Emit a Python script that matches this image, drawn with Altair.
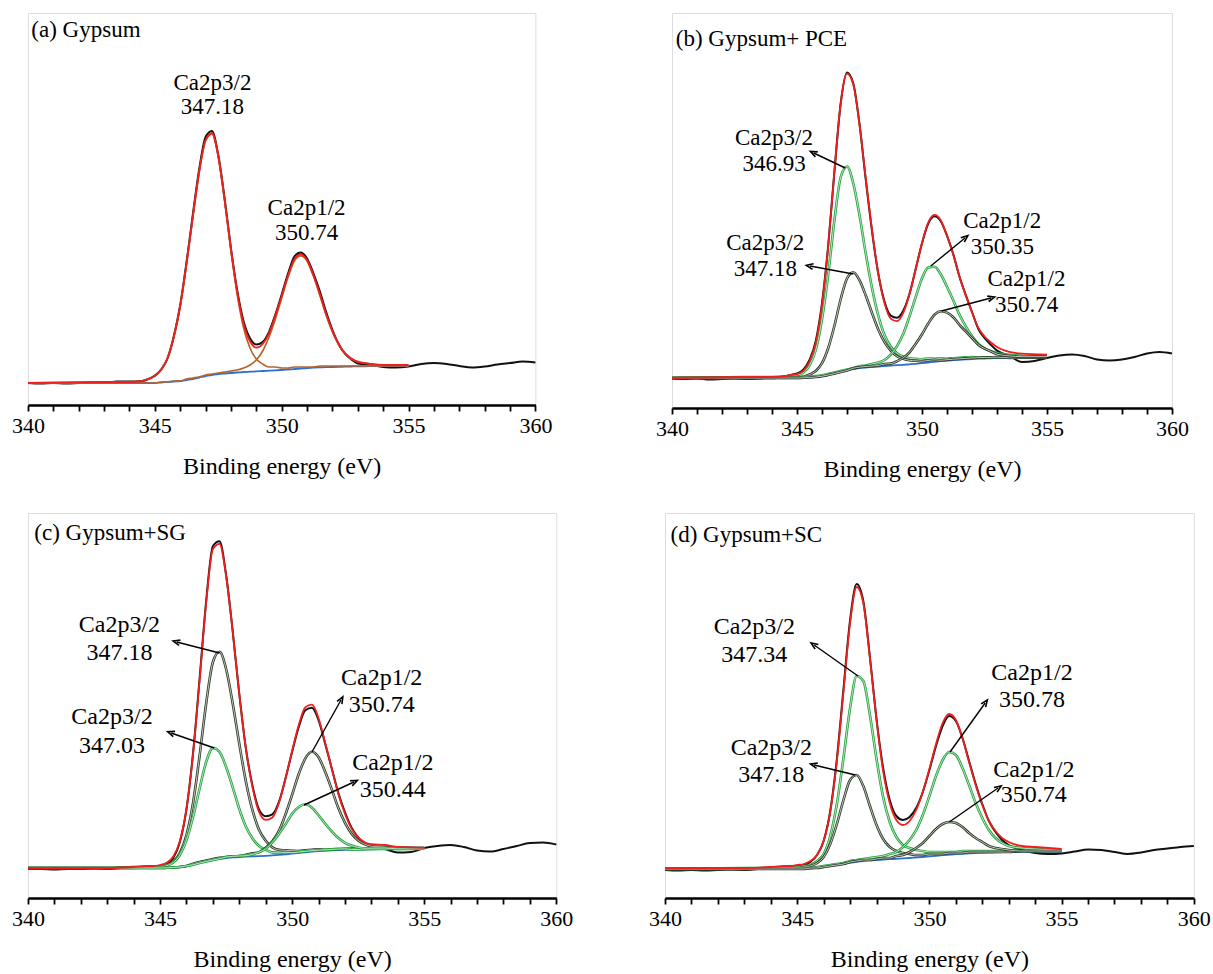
import math
import pandas as pd
import altair as alt

FONT = "Liberation Serif"

X_FIT = [340, 343, 344, 344.5, 344.75, 345, 345.25, 345.5, 345.75, 346, 346.25, 346.5, 346.75, 347, 347.25,
         347.5, 347.75, 348, 348.25, 348.5, 348.75, 349, 349.25, 349.5, 349.75, 350, 350.25, 350.5, 350.75,
         351, 351.25, 351.5, 351.75, 352, 352.25, 352.5, 352.75, 353, 353.5, 354, 355]
X_RAW = [340, 340.5, 341, 341.5, 342, 342.5, 343, 343.5, 344, 344.5, 344.75, 345, 345.25, 345.5, 345.75, 346,
         346.25, 346.5, 346.75, 347, 347.25, 347.5, 347.75, 348, 348.25, 348.5, 348.75, 349, 349.25, 349.5,
         349.75, 350, 350.25, 350.5, 350.75, 351, 351.25, 351.5, 351.75, 352, 352.25, 352.5, 352.75, 353,
         353.5, 354, 354.5, 355, 355.5, 356, 356.5, 357, 357.5, 358, 358.5, 359, 359.5, 360]

# (a) Gypsum
A_BG = [22, 22, 22, 22, 22, 22, 22.5, 23, 23.5, 24, 25, 26, 27.5, 29, 30, 31, 31.5, 32, 32.5, 33, 33.3, 33.6, 34,
        34.3, 34.6, 35, 35.5, 36, 36.5, 37, 37.3, 37.6, 37.8, 38, 38.2, 38.4, 38.5, 38.6, 38.8, 39, 39]
A_P32 = [22, 23, 23, 24, 26, 29, 35, 47, 68, 99, 141, 188, 233, 264, 271, 248, 204, 154, 110, 77, 57, 46, 41, 38,
         38, 37, 37, 38, 38, 38, 38, 39, 39, 39, 39, 39, 39, 39, 39, 39, 39]
A_P12 = [22, 22, 22, 22, 22, 22, 23, 23, 24, 24, 26, 27, 28, 30, 31, 32, 33, 34, 35, 37, 40, 45, 54, 68, 86, 107,
         128, 144, 149, 144, 129, 110, 90, 73, 60, 51, 46, 43, 41, 40, 40]
A_FIT = [22, 23, 23, 24, 26, 29, 35.5, 47, 68.5, 99, 142, 189, 233.5, 265, 272, 249, 205.5, 156, 112.5, 81, 63.7,
         57.4, 61, 71.7, 89.4, 109, 129.5, 146, 150.5, 145, 129.7, 111.4, 91.2, 74, 60.8, 51.6, 46.5, 43.4, 41.2, 40, 40]
A_RAW = [22, 21.5, 22, 21.5, 22, 22.5, 22, 23.5, 23.5, 24, 26, 29.5, 35.5, 46.5, 69, 100, 143, 191, 236, 268, 274,
         250, 206.5, 156.5, 114, 83.5, 66.7, 60.4, 63, 73.2, 90.4, 110.5, 131.5, 148.5, 152.5, 146.5, 131.7, 113.9,
         93.2, 75, 60.8, 51.1, 45.5, 41.4, 40, 38, 37.5, 38.5, 41, 42, 41, 39, 37.5, 38.5, 40.5, 42, 43.5, 42.5]

# (b) Gypsum+ PCE
B_BG = [30, 30, 30, 30, 30, 30, 30.2, 30.5, 31, 31.8, 33, 34.5, 36, 37.5, 38.8, 39.8, 40.5, 41, 41.5, 42, 42.4, 42.8,
        43.2, 43.7, 44.2, 44.8, 45.5, 46.2, 46.8, 47.3, 47.8, 48.2, 48.6, 49, 49.3, 49.5, 49.7, 49.9, 50.1, 50.3, 50.4]
B_G32 = [30, 31, 31, 31, 32, 33, 35.2, 42.5, 58, 88.8, 134, 188.5, 231, 241.5, 224.8, 192.8, 154.5, 120, 92.5, 73,
         61.4, 54.8, 51.2, 49.7, 49.2, 48.8, 49.5, 49.2, 49.8, 49.3, 49.8, 50.2, 50.6, 51, 50.3, 50.5, 50.7, 50.9,
         51.1, 51.3, 51.4]
B_D32 = [30, 30, 30, 31, 31, 31, 31.2, 33.5, 37, 44.8, 60, 82.5, 109, 129.5, 135.8, 127.8, 112.5, 95, 78.5, 66, 57.4,
         51.8, 49.2, 47.7, 47.2, 46.8, 47.5, 48.2, 47.8, 48.3, 48.8, 49.2, 49.6, 50, 50.3, 50.5, 50.7, 50.9, 50.1,
         50.3, 50.4]
B_G12 = [30, 30, 30, 30, 30, 30, 31.2, 31.5, 32, 32.8, 34, 35.5, 37, 38.5, 39.8, 41.8, 42.5, 44, 45.5, 48, 53.4, 61.8,
         74.2, 91.7, 111.2, 129.8, 140.5, 141.2, 133.8, 121.3, 107.8, 93.2, 81.6, 72, 64.3, 59.5, 56.7, 54.9, 53.1,
         52.3, 51.4]
B_D12 = [30, 30, 30, 30, 30, 30, 30.2, 30.5, 31, 31.8, 33, 34.5, 36, 37.5, 39.8, 40.8, 41.5, 42, 42.5, 44, 44.4, 46.8,
         50.2, 55.7, 64.2, 73.8, 84.5, 93.2, 96.8, 95.3, 90.8, 83.2, 76.6, 70, 63.3, 59.5, 56.7, 53.9, 52.1, 51.3, 51.4]
B_FIT = [30, 31, 31, 32, 33, 34, 37.2, 46.5, 65, 102.8, 162, 237.5, 305, 334.5, 323.8, 283.8, 229.5, 178, 134.5, 105,
         89.4, 86.8, 95.2, 113.7, 139.2, 164.8, 185.5, 193.2, 187.8, 172.3, 153.8, 131.2, 112.6, 96, 80.3, 71.5, 65.7,
         60.9, 56.1, 54.3, 53.4]
B_RAW = [29.5, 29, 29.5, 28.5, 29, 29.5, 29, 29.5, 30.5, 31.5, 33, 34.5, 38.2, 48, 67, 104.8, 163, 237.5, 305, 335.5,
         324.8, 283.8, 228.5, 177, 134.5, 106.5, 92.4, 90.3, 97.2, 114.2, 139.2, 164.8, 184.5, 191.7, 186.8, 172.3,
         153.8, 131.2, 113.1, 96, 79.3, 70, 63.2, 57.4, 52, 46, 47, 50, 52.5, 53.5, 52, 48.5, 47.5, 48.5, 51, 54.5,
         56, 54.5]

# (c) Gypsum+SG
C_BG = [30, 30, 30, 30, 30, 30, 30.2, 30.5, 31, 32, 33.3, 35, 36.5, 38, 39.2, 40, 40.6, 41, 41.3, 41.6, 41.9, 42.2,
        42.6, 43.1, 43.7, 44.3, 45, 45.7, 46.3, 46.8, 47.2, 47.6, 47.9, 48.2, 48.4, 48.6, 48.7, 48.8, 49, 49.1, 49.2]
C_D32 = [30, 30, 31, 31, 31, 32, 33.2, 36.5, 45, 63, 95.3, 143, 195.5, 236, 246.2, 229, 194.6, 154, 116.3, 87.6, 67.9,
         57.2, 50.6, 48.1, 47.7, 47.3, 47, 47.7, 48.3, 48.8, 48.2, 48.6, 48.9, 49.2, 49.4, 49.6, 49.7, 49.8, 50, 50.1,
         49.2]
C_G32 = [30, 30, 30, 31, 31, 31, 32.2, 35.5, 43, 58, 81.3, 110, 136.5, 150, 146.2, 131, 110.6, 89, 71.3, 59.6, 51.9,
         48.2, 45.6, 45.1, 45.7, 45.3, 46, 46.7, 47.3, 47.8, 48.2, 48.6, 48.9, 49.2, 48.4, 48.6, 48.7, 48.8, 49, 49.1,
         49.2]
C_D12 = [30, 30, 30, 30, 30, 30, 30.2, 30.5, 31, 32, 34.3, 36, 37.5, 39, 40.2, 41, 41.6, 42, 43.3, 44.6, 45.9, 50.2,
         56.6, 67.1, 83.7, 103.3, 124, 139.7, 146.3, 140.8, 126.2, 108.6, 89.9, 75.2, 64.4, 57.6, 53.7, 51.8, 51, 50.1,
         50.2]
C_G12 = [30, 30, 30, 30, 30, 30, 30.2, 30.5, 31, 32, 33.3, 35, 36.5, 38, 39.2, 41, 41.6, 42, 42.3, 43.6, 45.9, 49.2,
         55.6, 64.1, 73.7, 84.3, 91, 93.7, 90.3, 82.8, 74.2, 66.6, 59.9, 55.2, 52.4, 50.6, 49.7, 49.8, 50, 49.1, 49.2]
C_FIT = [30, 30, 31, 32, 32, 33, 35.2, 41.5, 57, 89, 144.3, 219, 296.5, 349, 354.2, 322, 266.6, 204, 149.3, 110.6,
         85.9, 78.2, 80.6, 95.1, 119.7, 147.3, 173, 190.7, 193.3, 179.8, 155.2, 129.6, 103.9, 84.2, 69.4, 60.6, 55.7,
         53.8, 53, 51.1, 50.2]
C_RAW = [29, 29, 28.5, 29, 29, 29.5, 29, 30, 30.5, 31.5, 31, 32, 33.7, 40, 56, 89, 145.3, 220.5, 298.5, 352, 356.7,
         323, 266.6, 203.5, 149.3, 112.1, 88.4, 81.7, 83.6, 96.1, 119.7, 146.3, 171, 187.7, 190.3, 177.8, 154.2, 129.6,
         104.9, 85.7, 70.4, 60.6, 54.2, 51.3, 49, 45.5, 46, 50, 52, 53, 51, 47.5, 46.5, 49, 52, 55, 55.5, 53.5]

# (d) Gypsum+SC
D_BG = [29, 29, 29, 29, 29, 29, 29.2, 29.5, 30, 30.7, 31.7, 32.8, 34, 35.2, 36.2, 37, 37.6, 38, 38.4, 38.8, 39.2,
        39.6, 40, 40.5, 41, 41.6, 42.2, 42.8, 43.3, 43.8, 44.2, 44.6, 44.9, 45.2, 45.4, 45.6, 45.8, 45.9, 46.1, 46.3, 46.5]
D_G32 = [29, 30, 30, 30, 31, 31, 32, 33, 37, 44, 62, 94, 140, 190, 222, 217, 183, 139, 101, 76, 61, 53, 50, 48, 47,
         46, 46, 46, 46, 46, 47, 47, 47, 47, 47, 47, 47, 47, 47, 47, 47]
D_D32 = [29, 29, 30, 30, 30, 30, 31, 32, 35, 41, 54, 74, 98, 118, 123, 112, 92, 73, 59, 51, 47, 45, 44, 43, 43, 44,
         44, 44, 45, 45, 45, 46, 46, 46, 46, 46, 46, 46, 47, 47, 47]
D_G12 = [29, 29, 30, 30, 30, 30, 30, 30, 31, 32, 33, 34, 35, 37, 38, 39, 40, 41, 42, 44, 46, 51, 58, 68, 83, 102,
         122, 138, 146, 143, 130, 113, 95, 80, 68, 60, 55, 52, 50, 49, 48]
D_D12 = [29, 29, 29, 29, 29, 29, 29, 30, 30, 31, 32, 33, 34, 36, 37, 38, 38, 39, 40, 40, 42, 43, 46, 50, 55, 62, 69,
         74, 76, 75, 71, 65, 60, 56, 52, 50, 49, 48, 47, 47, 47]
D_FIT = [30, 30, 31, 32, 32, 33, 34, 37, 43, 57, 86, 137, 206, 275, 311, 295, 240, 178, 127, 95, 78, 73, 77, 88, 106,
         129, 154, 175, 184, 178, 160, 136, 113, 93, 77, 67, 60, 56, 52, 51, 49]
D_RAW = [28, 27.5, 28, 27.5, 28, 28.5, 28, 29, 29.5, 31, 31, 32, 33, 36, 43, 57, 87, 139, 209, 278, 314, 297, 241,
         179, 130, 98, 82, 78, 81, 90, 106, 128, 152, 172, 182, 177, 160, 137, 114, 94, 77, 66, 58, 53, 48, 45, 44,
         44.5, 46.5, 48.5, 48, 46, 44, 45.5, 48, 49.5, 51, 52]

BLACK, RED, BLUE = "#111111", "#f01e1e", "#2f6fd0"
BROWN, GREEN, DARK = "#b5652a", "#1fa23a", "#2b3a25"
ARROW = "M-0.75,0.85L0,-1L0.75,0.85"

PANELS = [
    dict(W=507.4, H=392, title="(a) Gypsum", tpos=(340.13, 375), fs=23, bg=A_BG, fit=A_FIT, raw=A_RAW,
         comps=[(A_P32, "brown"), (A_P12, "brown")],
         labels=[("Ca2p3/2", 347.27, 322), ("347.18", 347.27, 298), ("Ca2p1/2", 350.98, 197), ("350.74", 350.98, 172)],
         arrows=[]),
    dict(W=500, H=395, title="(b) Gypsum+ PCE", tpos=(340.15, 369), fs=23, bg=B_BG, fit=B_FIT, raw=B_RAW,
         comps=[(B_G32, "green"), (B_D32, "dark"), (B_G12, "green"), (B_D12, "dark")],
         labels=[("Ca2p3/2", 344.08, 270), ("346.93", 344.08, 244), ("Ca2p3/2", 343.73, 165), ("347.18", 343.73, 139),
                 ("Ca2p1/2", 353.21, 187), ("350.35", 353.21, 161), ("Ca2p1/2", 354.18, 129), ("350.74", 354.18, 103)],
         arrows=[(346.93, 240, 345.67, 255), (347.25, 134, 345.52, 142), (350.35, 142, 351.72, 170), (350.78, 97, 352.76, 110)]),
    dict(W=528.3, H=385, title="(c) Gypsum+SG", tpos=(340.24, 365), fs=24, bg=C_BG, fit=C_FIT, raw=C_RAW,
         comps=[(C_D32, "dark"), (C_G32, "green"), (C_D12, "dark"), (C_G12, "green")],
         labels=[("Ca2p3/2", 343.46, 273), ("347.18", 343.46, 245), ("Ca2p3/2", 343.18, 181), ("347.03", 343.18, 152),
                 ("Ca2p1/2", 353.39, 220), ("350.74", 353.39, 193), ("Ca2p1/2", 353.81, 135), ("350.44", 353.81, 108)],
         arrows=[(347.25, 245, 345.63, 256), (347.05, 150, 345.42, 165), (350.75, 146, 351.85, 198), (350.45, 93, 352.34, 116)]),
    dict(W=528.8, H=385, title="(d) Gypsum+SC", tpos=(340.21, 363), fs=24, bg=D_BG, fit=D_FIT, raw=D_RAW,
         comps=[(D_G32, "green"), (D_D32, "dark"), (D_G12, "green"), (D_D12, "dark")],
         labels=[("Ca2p3/2", 343.38, 271), ("347.34", 343.38, 243), ("Ca2p3/2", 344.02, 150), ("347.18", 344.02, 123),
                 ("Ca2p1/2", 353.88, 225), ("350.78", 353.88, 198), ("Ca2p1/2", 353.95, 128), ("350.74", 353.95, 103)],
         arrows=[(347.3, 222, 345.64, 253), (347.2, 123, 345.64, 133), (350.78, 146, 352.11, 195), (350.75, 76, 352.6, 110)]),
]


def make_panel(p):
    xs = alt.Scale(domain=[340, 360], nice=False, zero=False)
    ys = alt.Scale(domain=[0, p["H"]], nice=False, zero=False)
    xax = alt.Axis(values=list(range(340, 361)), labelExpr="datum.value % 5 === 0 ? datum.label : ''",
                   tickSize=6, tickWidth=1.8, tickColor="black", domainColor="black", domainWidth=2.6,
                   labelFont=FONT, labelFontSize=22, labelColor="black", labelPadding=4, labelOverlap=False,
                   labelFlush=False,
                   title="Binding energy (eV)", titleFont=FONT, titleFontSize=24, titleFontWeight="normal",
                   titleColor="black", titlePadding=18, grid=False)
    X = alt.X("x:Q", scale=xs, axis=xax)
    Y = alt.Y("y:Q", scale=ys, axis=None)

    def line(xv, yv, color, width):
        df = pd.DataFrame({"x": xv, "y": [float(v) for v in yv]})
        return alt.Chart(df).mark_line(color=color, strokeWidth=width, interpolate="monotone",
                                       strokeJoin="round").encode(x=X, y=Y)

    layers = [line(X_RAW, p["raw"], BLACK, 2.0), line(X_FIT, p["bg"], BLUE, 1.8)]
    for vals, kind in p["comps"]:
        if kind == "brown":
            layers.append(line(X_FIT, vals, BROWN, 1.7))
        else:
            layers.append(line(X_FIT, vals, GREEN if kind == "green" else DARK, 2.6))
            layers.append(line(X_FIT, vals, "white", 0.7))
    layers.append(line(X_FIT, p["fit"], RED, 1.8))

    if p["arrows"]:
        rows = []
        for (x1, y1, x2, y2) in p["arrows"]:
            dx = (x2 - x1) * p["W"] / 20.0
            dy = (y2 - y1)
            ang = math.degrees(math.atan2(dx, dy)) % 360
            rows.append({"x": x1, "y": y1, "x2": x2, "y2": y2, "angle": ang})
        adf = pd.DataFrame(rows)
        layers.append(alt.Chart(adf).mark_rule(color="black", strokeWidth=1.4).encode(
            x=X, y=Y, x2="x2:Q", y2="y2:Q"))
        layers.append(alt.Chart(adf).mark_point(shape=ARROW, filled=False, stroke="black", opacity=1, size=55,
                                                strokeWidth=1.6, strokeJoin="miter").encode(
            x=alt.X("x2:Q", scale=xs, axis=xax), y=alt.Y("y2:Q", scale=ys, axis=None),
            angle=alt.Angle("angle:Q", scale=None)))

    ldf = pd.DataFrame(p["labels"], columns=["text", "x", "y"])
    layers.append(alt.Chart(ldf).mark_text(font=FONT, fontSize=p["fs"], color="black").encode(
        x=X, y=Y, text="text:N"))
    tdf = pd.DataFrame([{"text": p["title"], "x": p["tpos"][0], "y": p["tpos"][1]}])
    layers.append(alt.Chart(tdf).mark_text(font=FONT, fontSize=23, color="black", align="left").encode(
        x=X, y=Y, text="text:N"))
    return alt.layer(*layers).properties(width=p["W"], height=p["H"])


pa, pb, pc, pd_ = [make_panel(p) for p in PANELS]
top = alt.hconcat(pa, pb, spacing=102)
bottom = alt.hconcat(pc, pd_, spacing=74)
chart = alt.vconcat(top, bottom, spacing=30).properties(
    padding={"left": 11, "top": 12, "right": 0, "bottom": 0}, background="white"
).configure_view(stroke="#a8a8a8", strokeWidth=1.2).configure(font=FONT)

chart.save("out.html", embed_options={"renderer": "svg", "actions": False})
